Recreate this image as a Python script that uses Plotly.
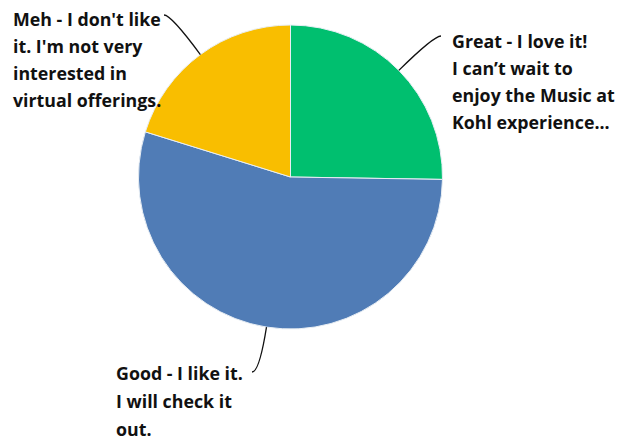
import math
import plotly.graph_objects as go

# Survey responses (counts), drawn clockwise from 12 o'clock
categories = ["Great", "Good", "Meh"]
values = [25, 54, 20]
colors = ["#00BF6F", "#507CB6", "#F9BE00"]

# Label text, one entry per printed line
label_lines = {
    "Great": ["Great - I love it!", "I can’t wait to", "enjoy the Music at", "Kohl experience..."],
    "Good": ["Good - I like it.", "I will check it", "out."],
    "Meh": ["Meh - I don't like", "it. I'm not very", "interested in", "virtual offerings."],
}

W, H = 623, 439
CX, CY, R = 290.5, 177.0, 152.0

# label block placement in pixels: left x, first line centre y, line pitch, leader end
label_layout = {
    "Great": dict(x=450, y=41, pitch=27, end=(441, 36)),
    "Good": dict(x=114, y=373, pitch=28, end=(252, 372)),
    "Meh": dict(x=11, y=19, pitch=27, end=(164, 15)),
}

FONT = dict(family="Open Sans, sans-serif", size=17.8, color="#111111", weight=700)


def px(x, y):
    return x / W, 1 - y / H


fig = go.Figure(
    go.Pie(
        labels=categories,
        values=values,
        marker=dict(colors=colors, line=dict(color="#E8EEF4", width=1)),
        sort=False,
        direction="clockwise",
        rotation=0,
        textinfo="none",
        hoverinfo="skip",
        showlegend=False,
        domain=dict(x=[(CX - R) / W, (CX + R) / W], y=[1 - (CY + R) / H, 1 - (CY - R) / H]),
    )
)

annotations = []
shapes = []
total = sum(values)
acc = 0
for cat, v in zip(categories, values):
    mid = (acc + v / 2) / total * 2 * math.pi  # clockwise from top
    acc += v
    sx = CX + R * math.sin(mid)
    sy = CY - R * math.cos(mid)
    lay = label_layout[cat]
    ex, ey = lay["end"]
    # control point: continue radially until reaching the label's line height
    t = (ey - sy) / (-math.cos(mid))
    qx = sx + t * math.sin(mid)
    qy = ey
    p0, p1, p2 = px(sx, sy), px(qx, qy), px(ex, ey)
    shapes.append(dict(
        type="path", xref="paper", yref="paper",
        path=f"M {p0[0]} {p0[1]} Q {p1[0]} {p1[1]} {p2[0]} {p2[1]}",
        line=dict(color="#111111", width=1.3),
    ))
    for i, line in enumerate(label_lines[cat]):
        ax, ay = px(lay["x"], lay["y"] + i * lay["pitch"])
        annotations.append(dict(
            x=ax, y=ay, xref="paper", yref="paper", text=line, showarrow=False,
            xanchor="left", yanchor="middle", font=FONT,
        ))

fig.update_layout(
    width=W, height=H,
    margin=dict(l=0, r=0, t=0, b=0),
    paper_bgcolor="white", plot_bgcolor="white",
    annotations=annotations, shapes=shapes,
)

fig.write_html("out.html")
